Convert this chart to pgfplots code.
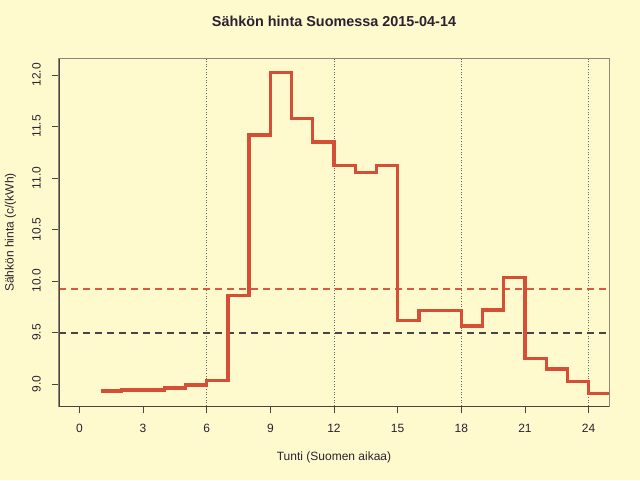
\documentclass[border=0pt]{standalone}
\usepackage{pgfplots}
\pgfplotsset{compat=1.18}
\usepackage{fontspec}
\setmainfont{Liberation Sans}
\definecolor{bg}{HTML}{FFFACD}
\definecolor{stepred}{HTML}{D44F36}
\definecolor{boxgray}{HTML}{8E877A}
\definecolor{axdark}{HTML}{4A443C}
\definecolor{txt}{HTML}{2A2230}
\definecolor{meanline}{HTML}{DA5A3E}
\definecolor{refline}{HTML}{4A4444}
\begin{document}
\begin{tikzpicture}
\fill[bg] (-44.25pt,-55.5pt) rectangle (435.75pt,304.5pt);
\useasboundingbox (-44.25pt,-55.5pt) rectangle (435.75pt,304.5pt);
\begin{axis}[
  scale only axis,
  width=412.5pt, height=260.25pt,
  at={(0,0)}, anchor=south west,
  xmin=-0.96, xmax=24.96,
  ymin=8.786, ymax=12.155,
  xtick={0,3,...,24},
  ytick={9.0,9.5,10.0,10.5,11.0,11.5,12.0},
  tick pos=left,
  tick align=outside,
  major tick length=5.6pt,
  tick style={draw=axdark, line width=0.6pt},
  axis line style={draw=boxgray, line width=0.75pt},
  /pgf/number format/assume math mode=true,
  yticklabel={\pgfmathprintnumber[fixed,fixed zerofill,precision=1,assume math mode=true]{\tick}},
  xticklabel style={font=\fontsize{9}{10.8}\selectfont, text=txt, anchor=base, yshift=-13.9pt},
  yticklabel style={font=\fontsize{9}{10.8}\selectfont, text=txt, rotate=90, anchor=south},
  yticklabel shift=4.5pt,
  title={\textbf{Sähkön hinta Suomessa 2015-04-14}},
  title style={font=\fontsize{10.8}{13}\selectfont, text=txt, at={(axis description cs:0.5,1)}, anchor=base, yshift=18pt},
  xlabel={Tunti (Suomen aikaa)},
  xlabel style={font=\fontsize{9}{10.8}\selectfont, text=txt, at={(axis description cs:0.5,0)}, anchor=base, yshift=-40.5pt},
  ylabel={Sähkön hinta (c/(kWh)},
  ylabel style={font=\fontsize{9}{10.8}\selectfont, text=txt, at={(axis description cs:0,0.5)}, anchor=base, yshift=34pt},
  axis background/.style={fill=bg},
]
% vertical dotted grid
\addplot[gray!80!black, line width=0.5pt, dash pattern=on 0.8pt off 1.2pt] coordinates {(6,8.786) (6,12.155)};
\addplot[gray!80!black, line width=0.5pt, dash pattern=on 0.8pt off 1.2pt] coordinates {(12,8.786) (12,12.155)};
\addplot[gray!80!black, line width=0.5pt, dash pattern=on 0.8pt off 1.2pt] coordinates {(18,8.786) (18,12.155)};
\addplot[gray!80!black, line width=0.5pt, dash pattern=on 0.8pt off 1.2pt] coordinates {(24,8.786) (24,12.155)};
% reference lines
\addplot[meanline, line width=1.3pt, dash pattern=on 5.25pt off 3.75pt] coordinates {(-0.96,9.919) (24.96,9.919)};
\addplot[refline, line width=1.5pt, dash pattern=on 5.25pt off 3.75pt] coordinates {(-0.96,9.498) (24.96,9.498)};
% step price line
\addplot[stepred, line width=2.5pt, const plot, line join=miter, mark=none] coordinates {
(1,8.932) (2,8.94) (3,8.94) (4,8.96) (5,8.99) (6,9.035) (7,9.857) (8,11.417)
(9,12.026) (10,11.576) (11,11.35) (12,11.12) (13,11.05) (14,11.12) (15,9.618)
(16,9.71) (17,9.71) (18,9.563) (19,9.718) (20,10.036) (21,9.246) (22,9.146)
(23,9.023) (24,8.91) (25,8.91)};
\end{axis}
\draw[axdark, line width=0.75pt] (current axis.north west) -- (current axis.south west) -- (current axis.south east);
\end{tikzpicture}
\end{document}
